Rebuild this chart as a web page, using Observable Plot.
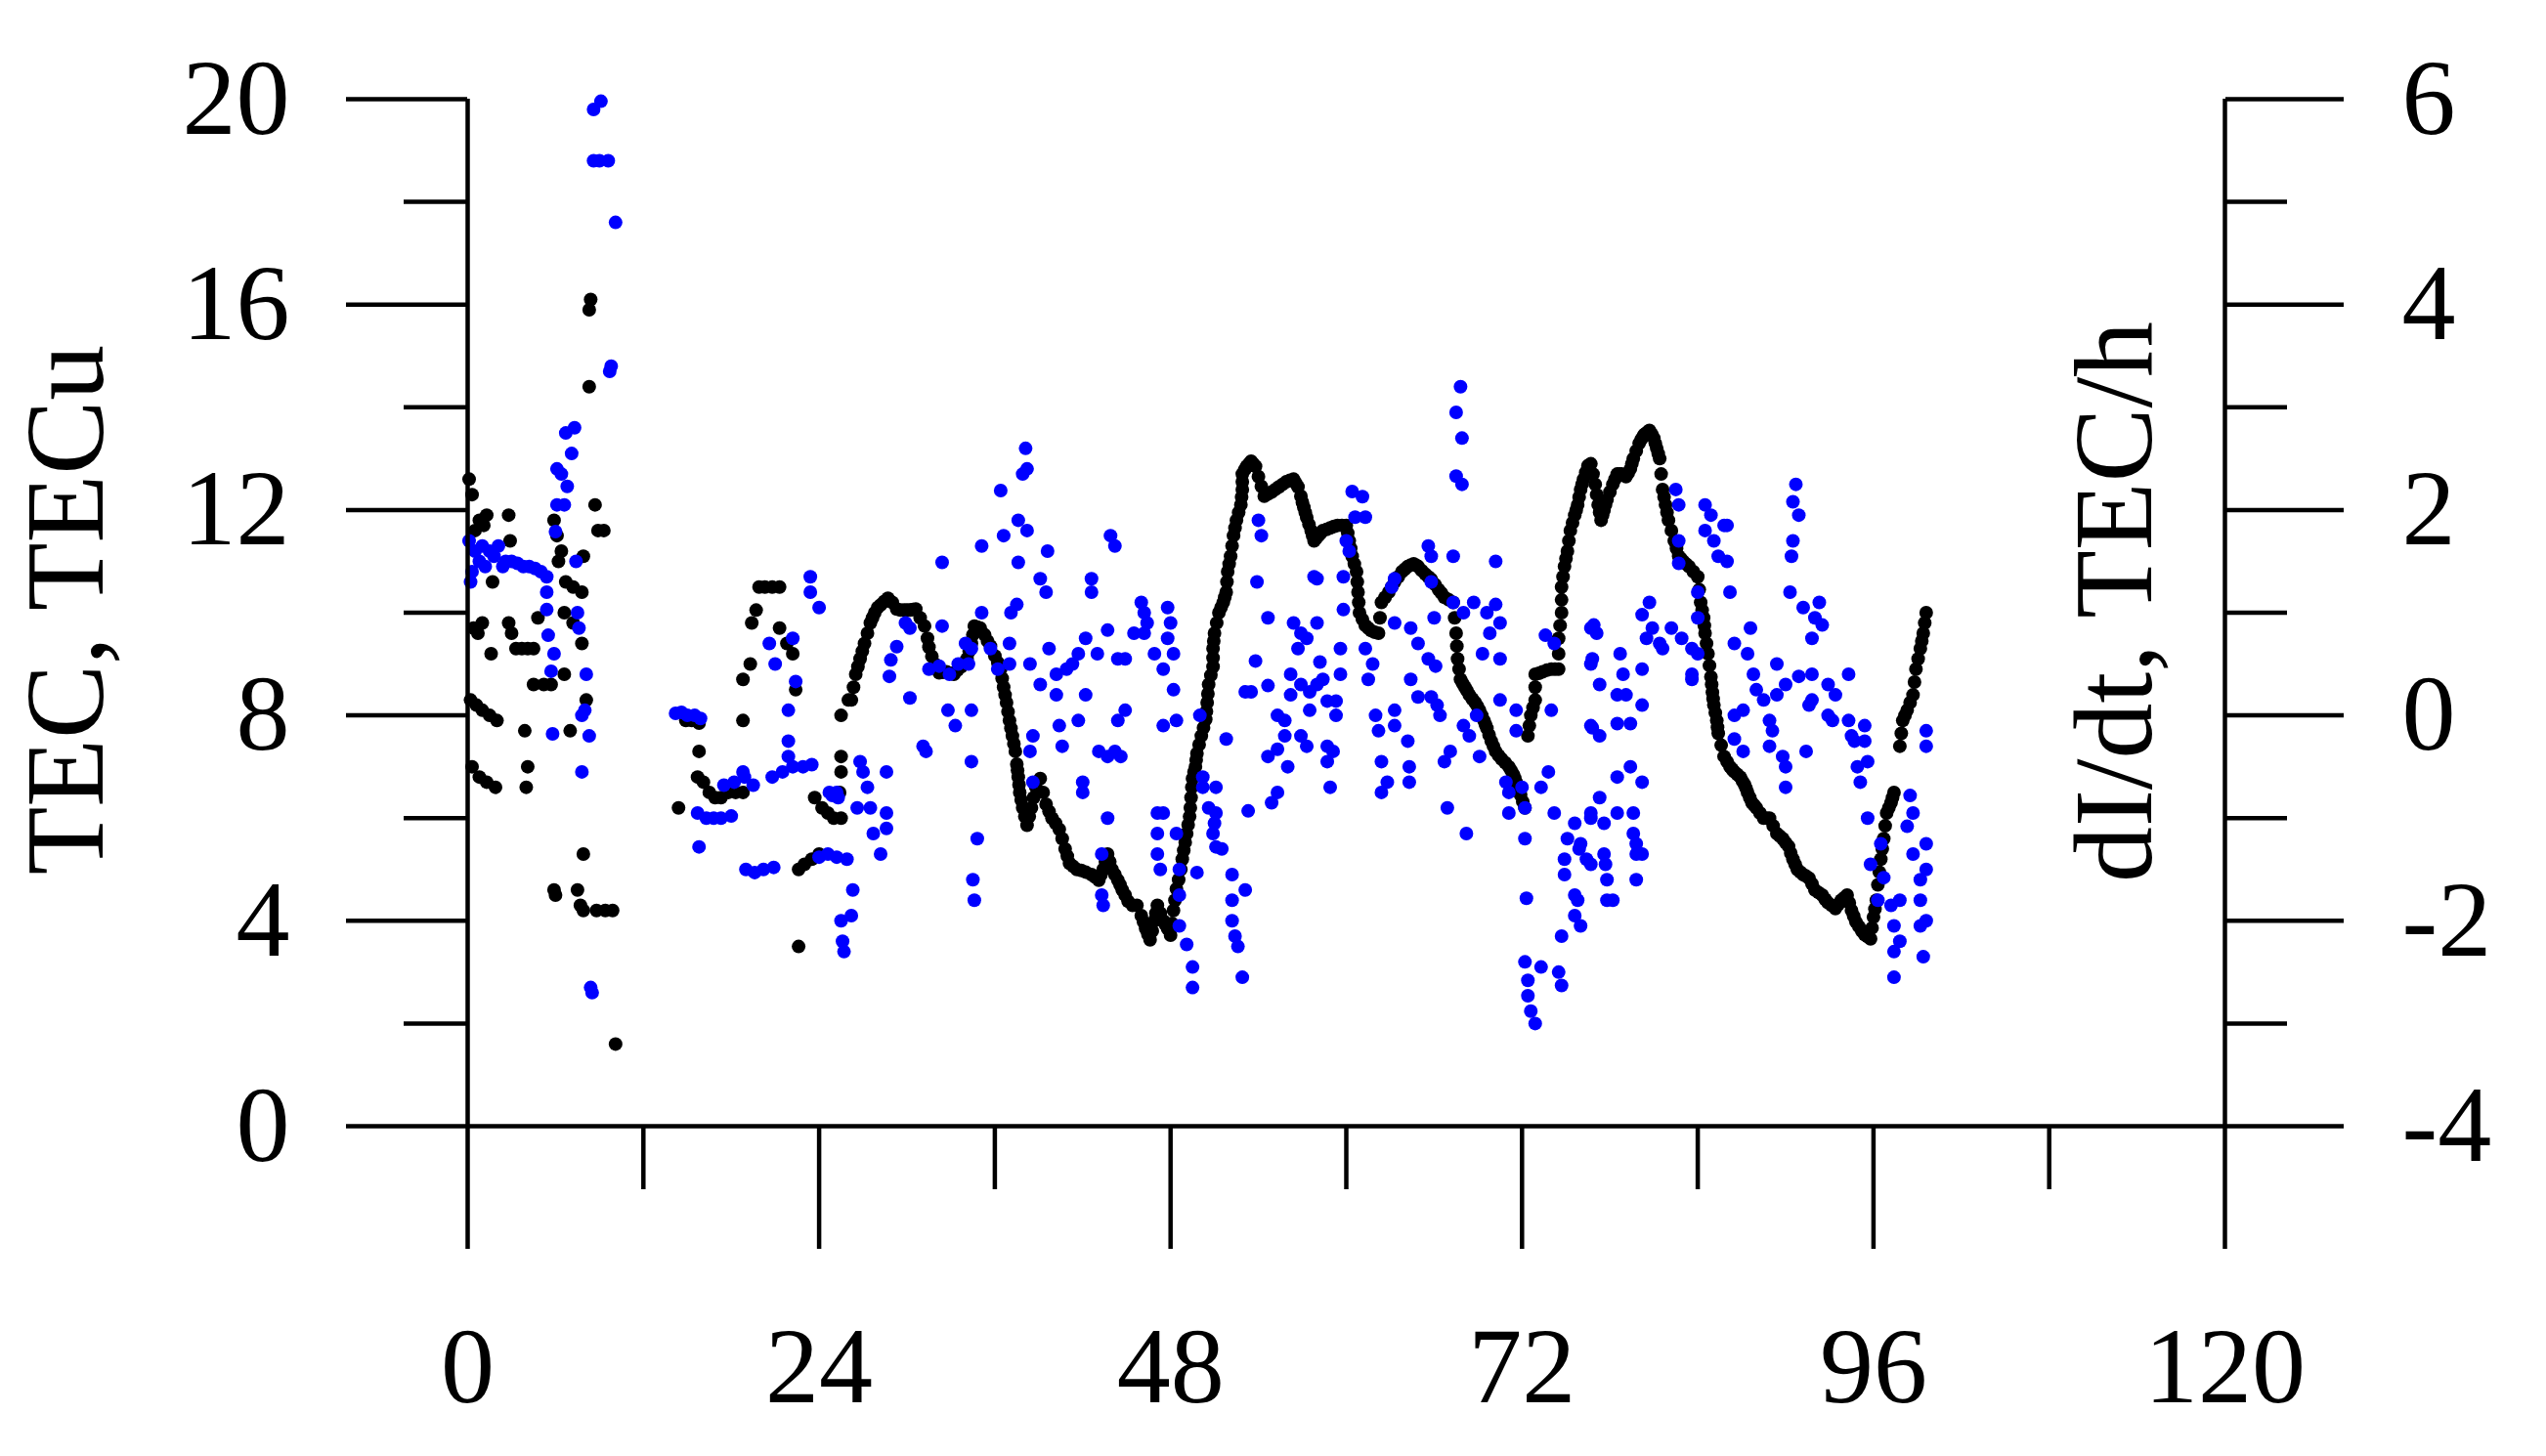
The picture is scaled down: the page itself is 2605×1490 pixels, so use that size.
<!DOCTYPE html>
<html><head><meta charset="utf-8">
<script src="https://cdn.jsdelivr.net/npm/d3@7"></script>
<script src="https://cdn.jsdelivr.net/npm/@observablehq/plot@0.6"></script>
<style>html,body{margin:0;padding:0;background:#fff;}</style>
</head><body><div id="chart"></div>
<script>
const hourTicks = [0, 24, 48, 72, 96, 120];
const hourMinorTicks = [12, 36, 60, 84, 108];
const tecTicks = [0, 4, 8, 12, 16, 20];
const tecMinorTicks = [2, 6, 10, 14, 18];
const rateTicks = [-4, -2, 0, 2, 4, 6];
const rateMinorTicks = [-3, -1, 1, 3, 5];
const tecLabel = "TEC, TECu";
const rateLabel = "dI/dt, TEC/h";

// TEC (black) [hour, TECu]
const tecPoints = [
[0.1,12.6],[0.3,12.3],[0.5,11.6],[0.8,11.8],[1.1,11.7],[1.3,11.9],[2.8,11.9],[2.9,11.4],[1.7,10.6],[0.4,9.7],[0.7,9.6],[1.0,9.8],[1.6,9.2],[2.8,9.8],[3.0,9.6],[3.3,9.3],[3.7,9.3],[4.1,9.3],[4.5,9.3],[4.8,9.9],[4.5,8.6],[5.2,8.6],[5.7,8.6],[0.2,8.3],[0.6,8.2],[1.0,8.1],[1.5,8.0],[2.0,7.9],[3.9,7.7],[0.3,7.0],[0.8,6.8],[1.3,6.7],[1.9,6.6],[4.1,7.0],[4.0,6.6],[5.9,11.8],[6.1,11.5],[6.4,11.2],[6.2,11.0],[6.7,10.6],[7.2,10.5],[7.8,10.4],[6.6,10.0],[7.2,9.8],[7.8,9.4],[6.6,8.8],[7.0,7.7],[8.1,8.3],[7.9,11.1],[8.7,12.1],[8.9,11.6],[9.3,11.6],[8.4,16.1],[8.3,15.9],[8.3,14.4],[7.9,5.3],[5.9,4.6],[6.0,4.5],[7.5,4.6],[7.7,4.3],[7.9,4.2],[8.8,4.2],[9.4,4.2],[9.9,4.2],[10.1,1.6],
[14.4,6.2],[14.9,7.9],[15.3,7.9],[15.8,7.85],[15.8,7.3],[15.7,6.8],[16.1,6.7],[16.5,6.5],[16.9,6.4],[17.3,6.4],[17.8,6.5],[18.3,6.5],[18.8,6.5],[18.8,7.9],[18.8,8.7],[19.3,9.0],[19.4,9.8],[19.7,10.05],[19.9,10.5],[20.3,10.5],[20.8,10.5],[21.3,10.5],[21.3,9.7],[21.8,9.4],[22.2,9.2],[22.4,8.5],[22.6,3.5],[22.6,5.0],[23.0,5.1],[23.5,5.2],[24.0,5.3],[23.7,6.4],[24.2,6.2],[24.6,6.1],[25.0,6.0],[25.5,8.0],[26.0,8.3],[25.5,7.2],[25.5,6.9],[25.4,6.5],[25.5,6.0],
[26.2,8.3],[26.35,8.55],[26.5,8.8],[26.65,8.95],[26.8,9.1],[26.95,9.25],[27.1,9.4],[27.3,9.6],[27.5,9.8],[27.65,9.9],[27.8,10.0],[28.0,10.1],[28.2,10.15],[28.45,10.22],[28.7,10.28],[29.0,10.2],[29.3,10.07],[29.55,10.05],[29.8,10.05],[30.0,10.05],[30.2,10.05],[30.4,10.06],[30.6,10.07],[30.9,9.9],[31.2,9.74],[31.4,9.5],[31.5,9.33],[31.7,9.15],[31.9,9.0],[32.2,8.83],[32.45,8.84],[32.7,8.85],[32.95,8.82],[33.2,8.8],[33.45,8.88],[33.7,8.95],[33.9,9.02],[34.1,9.1],[34.25,9.25],[34.4,9.4],[34.5,9.57],[34.6,9.74],[34.8,9.72],[35.0,9.7],[35.3,9.57],[35.5,9.45],[35.7,9.35],[36.0,9.16],[36.2,9.03],[36.4,8.9],[36.5,8.72],[36.6,8.55],[36.7,8.4],[36.8,8.25],[36.9,8.07],[37.0,7.9],[37.1,7.75],[37.2,7.6],[37.3,7.45],[37.4,7.3],[37.5,7.05],[37.55,6.93],[37.6,6.8],[37.65,6.65],[37.7,6.5],[37.8,6.35],[37.9,6.2],[38.05,6.03],[38.2,5.86],[38.35,6.03],[38.5,6.2],[38.65,6.4],[38.8,6.6],[39.1,6.77],[39.3,6.5],[39.5,6.27],[39.7,6.13],[39.9,6.0],[40.15,5.9],[40.4,5.78],[40.6,5.6],[40.8,5.4],[40.95,5.26],[41.1,5.12],[41.35,5.06],[41.6,5.0],[41.9,4.98],[42.2,4.95],[42.6,4.9],[42.85,4.85],[43.1,4.79],[43.25,4.9],[43.4,5.0],[43.55,5.15],[43.7,5.3],[43.85,5.15],[44.0,5.0],[44.2,4.9],[44.4,4.79],[44.55,4.7],[44.7,4.6],[44.9,4.5],[45.1,4.38],[45.4,4.3],[45.7,4.3],[46.0,4.1],[46.15,3.98],[46.3,3.85],[46.45,3.74],[46.6,3.63],[46.75,3.8],[46.9,4.0],[47.0,4.15],[47.1,4.3],[47.3,4.15],[47.5,4.0],[47.65,3.93],[47.8,3.85],[48.0,3.72],[48.1,3.95],[48.2,4.2],[48.3,4.4],[48.4,4.62],[48.55,4.8],[48.7,5.0],[48.8,5.2],[48.9,5.37],[49.0,5.53],[49.1,5.7],[49.2,5.87],[49.3,6.03],[49.35,6.2],[49.4,6.4],[49.45,6.6],[49.5,6.77],[49.6,6.9],[49.7,7.0],[49.75,7.13],[49.8,7.26],[49.95,7.43],[50.1,7.6],[50.25,7.76],[50.4,7.92],[50.45,8.08],[50.5,8.25],[50.55,8.42],[50.6,8.6],[50.75,8.78],[50.9,8.95],[50.9,9.12],[50.9,9.3],[50.95,9.45],[51.0,9.6],[51.15,9.8],[51.3,10.0],[51.45,10.1],[51.6,10.2],[51.7,10.3],[51.8,10.4],[51.85,10.6],[51.9,10.8],[52.0,10.95],[52.1,11.1],[52.2,11.3],[52.3,11.5],[52.4,11.65],[52.5,11.8],[52.65,11.95],[52.8,12.1],[52.85,12.25],[52.9,12.4],[52.9,12.55],[52.9,12.7],[53.05,12.78],[53.2,12.85],[53.35,12.9],[53.5,12.95],[53.65,12.9],[53.8,12.85],[54.0,12.65],[54.2,12.46],[54.4,12.27],[54.65,12.31],[54.9,12.35],[55.15,12.4],[55.4,12.45],[55.65,12.5],[55.9,12.55],[56.15,12.58],[56.4,12.6],[56.55,12.52],[56.7,12.45],[56.9,12.27],[57.0,12.15],[57.1,12.05],[57.2,11.95],[57.3,11.85],[57.45,11.72],[57.6,11.6],[57.7,11.5],[57.8,11.4],[57.95,11.45],[58.1,11.5],[58.25,11.55],[58.4,11.6],[58.65,11.62],[58.9,11.65],[59.15,11.68],[59.4,11.7],[59.7,11.7],[60.0,11.7],[60.1,11.55],[60.2,11.4],[60.3,11.25],[60.4,11.1],[60.55,10.95],[60.7,10.8],[60.75,10.6],[60.8,10.4],[60.85,10.2],[60.9,10.0],[61.1,9.87],[61.3,9.75],[61.5,9.7],[61.7,9.65],[61.95,9.62],[62.2,9.6],[62.3,9.9],[62.4,10.2],[62.65,10.3],[62.9,10.4],[63.1,10.5],[63.3,10.6],[63.55,10.7],[63.8,10.8],[64.0,10.85],[64.2,10.9],[64.4,10.93],[64.6,10.95],[64.75,10.93],[64.9,10.9],[65.15,10.82],[65.4,10.75],[65.6,10.7],[65.8,10.65],[66.05,10.55],[66.3,10.45],[66.5,10.38],[66.7,10.3],[67.0,10.25],[67.3,10.2],[67.4,9.9],[67.5,9.6],[67.55,9.35],[67.6,9.1],[67.7,8.9],[67.8,8.7],[67.95,8.62],[68.1,8.55],[68.25,8.48],[68.4,8.4],[68.6,8.32],[68.8,8.25],[68.95,8.18],[69.1,8.1],[69.25,8.0],[69.4,7.9],[69.5,7.82],[69.6,7.75],[69.75,7.62],[69.9,7.5],[70.05,7.4],[70.2,7.3],[70.4,7.22],[70.6,7.15],[70.85,7.08],[71.1,7.0],[71.25,6.93],[71.4,6.85],[71.5,6.78],[71.6,6.7],[71.75,6.58],[71.9,6.45],[72.05,6.32],[72.2,6.2],[72.4,7.6],[72.5,7.8],[72.6,8.0],[72.75,8.15],[72.9,8.3],[72.9,8.55],[72.9,8.8],[73.15,8.82],[73.4,8.85],[73.7,8.88],[74.0,8.9],[74.25,8.9],[74.5,8.9],[74.5,9.2],[74.5,9.5],[74.6,9.75],[74.7,10.0],[74.7,10.25],[74.7,10.5],[74.8,10.7],[74.9,10.9],[75.0,11.05],[75.1,11.2],[75.2,11.4],[75.3,11.6],[75.45,11.75],[75.6,11.9],[75.7,12.0],[75.8,12.1],[75.9,12.25],[76.0,12.4],[76.1,12.5],[76.2,12.6],[76.35,12.73],[76.5,12.86],[76.6,12.88],[76.7,12.9],[76.85,12.7],[77.0,12.5],[77.1,12.3],[77.2,12.1],[77.3,11.95],[77.4,11.8],[77.5,11.9],[77.6,12.0],[77.7,12.1],[77.8,12.2],[78.0,12.35],[78.2,12.5],[78.35,12.6],[78.5,12.7],[78.65,12.7],[78.8,12.7],[78.95,12.68],[79.1,12.65],[79.25,12.72],[79.4,12.8],[79.5,12.9],[79.6,13.0],[79.8,13.15],[80.0,13.3],[80.15,13.38],[80.3,13.45],[80.4,13.48],[80.5,13.5],[80.6,13.52],[80.7,13.55],[80.85,13.48],[81.0,13.4],[81.1,13.3],[81.2,13.2],[81.3,13.1],[81.4,13.0],[81.5,12.7],[81.6,12.4],[81.7,12.25],[81.8,12.1],[81.9,11.95],[82.0,11.8],[82.2,11.6],[82.4,11.4],[82.55,11.25],[82.7,11.1],[82.85,11.05],[83.0,11.0],[83.2,10.95],[83.4,10.9],[83.7,10.8],[84.0,10.7],[84.1,10.45],[84.2,10.2],[84.3,10.05],[84.4,9.9],[84.45,9.75],[84.5,9.6],[84.6,9.4],[84.7,9.2],[84.8,8.97],[84.9,8.75],[84.95,8.6],[85.0,8.45],[85.05,8.32],[85.1,8.2],[85.2,8.05],[85.3,7.9],[85.35,7.77],[85.4,7.65],[85.6,7.42],[85.8,7.2],[86.0,7.1],[86.2,7.0],[86.35,6.95],[86.5,6.9],[86.7,6.85],[86.9,6.8],[87.05,6.72],[87.2,6.65],[87.3,6.58],[87.4,6.5],[87.55,6.4],[87.7,6.3],[87.85,6.25],[88.0,6.2],[88.25,6.1],[88.5,6.0],[88.7,6.0],[88.9,6.0],[89.15,5.85],[89.4,5.7],[89.6,5.65],[89.8,5.6],[90.0,5.52],[90.2,5.45],[90.35,5.32],[90.5,5.2],[90.65,5.1],[90.8,5.0],[91.0,4.95],[91.2,4.9],[91.4,4.87],[91.6,4.83],[91.8,4.72],[92.0,4.6],[92.25,4.55],[92.5,4.5],[92.7,4.42],[92.9,4.35],[93.15,4.3],[93.4,4.24],[93.6,4.32],[93.8,4.4],[94.0,4.45],[94.2,4.5],[94.35,4.35],[94.5,4.2],[94.65,4.09],[94.8,3.98],[95.0,3.89],[95.2,3.8],[95.4,3.73],[95.6,3.69],[95.8,3.65],[95.9,3.86],[96.0,4.07],[96.1,4.23],[96.2,4.4],[96.3,4.7],[96.4,4.95],[96.5,5.2],[96.6,5.4],[96.7,5.6],[96.8,5.85],[96.9,6.1],[97.05,6.2],[97.2,6.3],[97.3,6.4],[97.4,6.5],[97.8,7.4],[97.9,7.65],[98.0,7.9],[98.15,8.0],[98.3,8.1],[98.5,8.25],[98.7,8.4],[98.8,8.65],[98.9,8.9],[99.05,9.1],[99.2,9.3],[99.3,9.45],[99.4,9.6],[99.5,9.8],[99.6,10.0]
];

// dI/dt (blue) [hour, TEC/h]
const ratePoints = [
[0.1,1.7],[0.3,1.4],[0.5,1.6],[0.8,1.5],[1.0,1.65],[1.2,1.45],[1.5,1.6],[1.8,1.55],[2.1,1.65],[2.4,1.45],[0.2,1.3],[2.6,1.5],[3.0,1.5],[3.4,1.48],[3.8,1.45],[4.2,1.45],[4.6,1.43],[5.0,1.4],[5.4,1.35],[5.4,1.2],[5.4,1.03],[5.5,0.78],[5.9,0.6],[5.7,0.43],[5.8,-0.18],[6.0,1.79],[6.1,2.05],[6.6,2.05],[6.1,2.4],[6.4,2.35],[6.7,2.75],[7.3,2.8],[7.1,2.55],[6.8,2.23],[7.4,1.5],[7.5,1.0],[7.6,0.85],[8.1,0.4],[7.8,0.0],[8.0,0.05],[8.3,-0.2],[7.8,-0.55],[8.4,-2.65],[8.5,-2.7],[8.6,5.9],[9.1,5.98],[8.6,5.4],[9.0,5.4],[9.6,5.4],[10.1,4.8],[9.7,3.35],[9.8,3.4],
[14.2,0.02],[14.6,0.03],[15.0,0.0],[15.5,0.0],[15.9,-0.03],[15.7,-0.95],[16.3,-1.0],[16.8,-1.0],[17.3,-1.0],[18.0,-0.98],[15.8,-1.28],[17.5,-0.68],[18.2,-0.65],[18.9,-0.6],[19.5,-0.68],[18.8,-0.55],[19.0,-1.5],[19.6,-1.53],[20.2,-1.5],[20.9,-1.48],[20.8,-0.6],[21.5,-0.55],[22.2,-0.5],[22.9,-0.5],[23.5,-0.48],[20.6,0.7],[21.0,0.5],[22.2,0.75],[22.4,0.33],[21.9,0.05],[21.9,-0.25],[21.9,-0.4],[23.4,1.35],[23.4,1.2],[24.0,1.05],[24.0,-1.38],[24.6,-1.35],[25.2,-1.38],[25.9,-1.4],[24.7,-0.75],[25.2,-0.75],[25.5,-2.0],[25.6,-2.2],[25.7,-2.3],
[24.9,-0.78],[25.3,-0.8],[26.3,-1.7],[26.2,-1.95],[26.8,-0.45],[27.0,-0.55],[27.3,-0.7],[26.6,-0.9],[27.5,-0.9],[27.7,-1.15],[28.2,-1.35],[28.6,-0.55],[28.6,-0.95],[28.6,-1.1],[28.8,0.38],[28.9,0.54],[29.3,0.67],[29.9,0.9],[30.2,0.85],[30.2,0.17],[31.1,-0.3],[31.3,-0.35],[31.5,0.45],[32.2,0.48],[32.9,0.4],[33.5,0.5],[34.2,0.5],[32.4,1.49],[32.4,0.87],[32.8,0.05],[33.3,-0.1],[34.0,0.7],[34.4,0.65],[34.4,-0.45],[34.4,0.05],[34.8,-1.2],[34.5,-1.6],[34.6,-1.8],[35.1,1.65],[35.1,1.0],[35.7,0.65],[36.2,0.45],[36.4,2.19],[36.6,1.75],[37.1,1.0],[37.5,1.08],[37.0,0.7],[37.0,0.5],[37.6,1.9],[38.2,1.8],[37.6,1.49],[37.9,2.35],[38.2,2.4],[38.1,2.6],[38.6,-0.2],[38.4,-0.35],[38.4,0.5],[38.6,-0.65],[39.1,1.33],[39.5,1.2],[39.6,1.6],[39.7,0.65],[39.1,0.3],[40.2,0.4],[40.9,0.45],[41.3,0.5],[41.7,0.6],[40.4,-0.1],[40.6,-0.3],[40.2,0.2],[41.7,-0.05],[42.2,0.2],[42.0,-0.65],[42.0,-0.75],[42.2,0.75],[42.6,1.33],[42.6,1.2],[43.0,0.6],[43.1,-0.35],[43.7,-0.4],[44.2,-0.35],[44.6,-0.4],[43.9,1.75],[44.2,1.65],[43.7,0.83],[43.7,-1.0],[43.3,-1.35],[43.3,-1.75],[43.4,-1.85],[44.4,-0.05],[44.9,0.05],[44.4,0.55],[44.9,0.55],[46.0,1.1],[46.2,1.0],[46.4,0.9],[45.5,0.8],[46.2,0.8],[46.9,0.6],[47.8,1.05],[48.0,0.9],[47.8,0.75],[48.2,0.6],[47.5,0.45],[48.2,0.25],[47.5,-0.1],[48.4,-0.05],[47.1,-0.95],[47.5,-0.95],[47.1,-1.15],[47.1,-1.35],[47.3,-1.5],[48.4,-1.15],[48.6,-1.5],[49.8,-1.53],[48.6,-1.75],[48.6,-2.05],[49.1,-2.23],[49.5,-2.45],[49.5,-2.65],[50.0,0.0],[50.2,-0.6],[51.1,-0.7],[51.1,-0.95],[50.9,-1.15],[51.1,-1.28],
[67.8,3.2],[67.5,2.95],[67.9,2.7],[67.5,2.33],[67.9,2.25],[60.4,2.18],[61.1,2.13],[60.6,1.93],[61.3,1.93],[60.0,1.7],[60.2,1.6],[59.8,1.35],[54.0,1.9],[54.2,1.75],[53.9,1.3],[54.65,0.95],[53.8,0.53],[57.8,1.35],[58.0,1.33],[56.4,0.9],[56.9,0.8],[58.0,0.9],[57.3,0.75],[56.7,0.65],[59.8,1.03],[59.6,0.65],[58.2,0.52],[61.3,0.65],[61.8,0.5],[61.5,0.35],[63.3,1.33],[63.1,1.25],[63.3,0.9],[65.6,1.65],[65.8,1.55],[65.8,1.3],[67.3,1.55],[70.2,1.5],[64.4,0.85],[64.9,0.7],[65.6,0.55],[66.0,0.95],[66.1,0.48],[67.3,1.1],[68.0,1.0],[68.7,1.1],[69.6,1.0],[70.2,1.08],[69.8,0.8],[69.3,0.6],[70.5,0.9],[70.5,0.55],[64.4,0.35],[53.1,0.23],[53.5,0.23],[54.65,0.29],[56.2,0.4],[56.9,0.3],[57.5,0.23],[58.0,0.3],[58.4,0.35],[59.6,0.4],[56.2,0.2],[57.5,0.05],[58.7,0.14],[59.3,0.14],[59.3,0.0],[55.3,0.0],[55.8,-0.05],[55.8,-0.2],[55.3,-0.33],[54.65,-0.4],[56.9,-0.2],[57.3,-0.3],[58.7,-0.3],[59.1,-0.35],[58.7,-0.45],[56.0,-0.5],[54.9,-0.85],[55.3,-0.75],[58.9,-0.7],[53.3,-0.93],[62.0,0.0],[62.2,-0.15],[63.3,0.05],[63.3,-0.1],[64.2,-0.25],[62.4,-0.45],[62.4,-0.75],[62.8,-0.65],[64.3,-0.5],[64.3,-0.65],[64.9,0.18],[65.8,0.18],[66.2,0.1],[66.4,0.0],[68.0,-0.1],[68.4,-0.2],[67.1,-0.35],[66.7,-0.45],[66.9,-0.9],[68.2,-1.15],[69.1,-0.4],[68.9,0.0],[70.5,0.15],[71.6,0.05],[71.6,-0.15],[70.9,-0.65],[71.1,-0.75],[72.0,-0.7],[73.3,-0.7],[71.1,-0.95],[72.2,-0.9],[72.2,-1.2],[73.8,-0.55],[74.2,-0.95],[73.6,0.78],[74.2,0.7],[74.0,0.05],[76.7,0.85],[76.7,0.5],[76.7,-0.1],[76.7,-1.0],[75.1,-1.2],[74.9,-1.4],[75.9,-1.3],[74.9,-1.55],[75.8,-1.8],[75.6,-1.95],[74.7,-2.15],[72.3,-1.78],[72.2,-2.4],[73.3,-2.45],[72.4,-2.58],[72.4,-2.73],[72.6,-2.88],[72.9,-3.0],[74.5,-2.5],[74.7,-2.63],[51.8,-0.23],[50.2,-0.7],[50.6,-0.9],[51.0,-1.05],[51.5,-1.3],[52.2,-1.55],[52.2,-1.8],[53.1,-1.7],[52.2,-2.0],[52.4,-2.15],[52.6,-2.25],[52.9,-2.55],
[75.6,-1.05],[76.0,-1.25],[76.4,-1.4],[76.7,-1.45],[75.6,-1.75],[76.0,-2.05],[76.9,0.88],[77.1,0.8],[76.8,0.55],[77.3,0.3],[76.8,-0.12],[77.3,-0.2],[78.7,0.6],[78.9,0.4],[78.5,0.2],[79.1,0.2],[78.5,-0.08],[79.4,-0.08],[80.2,0.45],[80.2,0.1],[79.4,-0.5],[78.5,-0.6],[80.2,-0.65],[77.3,-0.8],[76.7,-0.95],[77.6,-1.05],[78.5,-0.95],[79.6,-0.95],[79.6,-1.15],[79.8,-1.25],[77.6,-1.35],[77.7,-1.45],[77.8,-1.6],[78.2,-1.8],[77.8,-1.8],[79.8,-1.35],[80.2,-1.35],[79.8,-1.6],[80.7,1.1],[80.2,0.98],[80.9,0.85],[80.5,0.75],[81.4,0.7],[81.6,0.65],[82.2,0.85],[82.9,0.75],[83.6,0.65],[84.0,0.6],[83.6,0.4],[83.6,0.35],[82.5,2.2],[82.7,2.05],[82.7,1.7],[82.7,1.48],[84.5,2.05],[84.9,1.95],[84.5,1.8],[85.1,1.7],[85.8,1.85],[86.0,1.85],[85.4,1.55],[86.0,1.5],[86.2,1.2],[84.0,1.2],[84.0,0.95],[86.5,0.7],[87.6,0.85],[87.4,0.6],[87.8,0.4],[88.0,0.25],[88.5,0.15],[89.4,0.2],[90.0,0.3],[90.9,0.38],[91.8,0.4],[89.4,0.5],[86.5,0.0],[87.1,0.05],[86.5,-0.23],[87.1,-0.35],[88.9,-0.05],[89.1,-0.15],[88.9,-0.3],[89.8,-0.4],[90.0,-0.5],[90.0,-0.7],[91.4,-0.35],[90.7,2.25],[90.5,2.08],[90.9,1.95],[90.5,1.7],[90.4,1.55],[90.3,1.2],[91.2,1.05],[92.3,1.1],[92.0,0.95],[92.5,0.88],[91.8,0.75],[91.6,0.1],[91.8,0.15],[92.9,0.3],[93.4,0.2],[92.9,0.0],[93.2,-0.05],[94.3,0.4],[94.3,-0.05],[94.5,-0.2],[94.7,-0.25],[95.4,-0.1],[95.4,-0.25],[94.9,-0.5],[95.6,-0.45],[95.1,-0.65],[95.6,-1.0],[95.8,-1.45],[96.5,-1.25],[96.7,-1.58],[96.3,-1.8],[97.2,-1.85],[97.8,-1.8],[98.5,-0.78],[98.7,-0.95],[98.3,-1.08],[99.6,-1.25],[98.7,-1.35],[99.6,-1.5],[99.2,-1.6],[99.2,-1.8],[99.6,-2.0],[99.2,-2.05],[97.4,-2.05],[97.8,-2.2],[97.4,-2.3],[99.4,-2.35],[97.4,-2.55],[99.6,-0.15],[99.6,-0.3]
];

// right axis (-4..6 TEC/h) spans the same height as left axis (0..20 TECu)
const rateToTec = d => (d + 4) * 2;

const lw = 4.5;
const chart = Plot.plot({
  width: 2605,
  height: 1490,
  marginLeft: 478,
  marginRight: 329,
  marginTop: 101,
  marginBottom: 338,
  x: {domain: [0, 120]},
  y: {domain: [0, 20]},
  style: {fontFamily: "'Liberation Serif', 'Times New Roman', serif", fontSize: "110px", background: "#fff", color: "#000", overflow: "visible"},
  marks: [
    Plot.dot(tecPoints, {x: d => d[0], y: d => d[1], r: 7, fill: "#000"}),
    Plot.dot(ratePoints, {x: d => d[0], y: d => rateToTec(d[1]), r: 7, fill: "#0000ff"}),
    Plot.ruleX([0, 120], {strokeWidth: lw}),
    Plot.ruleY([0], {strokeWidth: lw}),
    Plot.axisY({ticks: tecTicks, tickSize: 124, tickPadding: 58, strokeWidth: lw, label: null, tickFormat: d => String(d)}),
    Plot.axisY({ticks: tecMinorTicks, tickSize: 65, strokeWidth: lw, label: null, tickFormat: () => ""}),
    Plot.axisY({anchor: "right", ticks: rateTicks.map(rateToTec), tickSize: 121, tickPadding: 60, strokeWidth: lw, label: null, tickFormat: t => String(t / 2 - 4)}),
    Plot.axisY({anchor: "right", ticks: rateMinorTicks.map(rateToTec), tickSize: 63, strokeWidth: lw, label: null, tickFormat: () => ""}),
    Plot.axisX({ticks: hourTicks, tickSize: 126, tickPadding: 78, strokeWidth: lw, label: null, tickFormat: d => String(d)}),
    Plot.axisX({ticks: hourMinorTicks, tickSize: 65, strokeWidth: lw, label: null, tickFormat: () => ""}),
    Plot.text([tecLabel], {frameAnchor: "left", textAnchor: "middle", lineAnchor: "middle", text: d => d, rotate: -90, dx: -410, dy: -3, fontSize: 114}),
    Plot.text([rateLabel], {frameAnchor: "right", textAnchor: "middle", lineAnchor: "middle", text: d => d, rotate: -90, dx: -112, dy: -11, fontSize: 114})
  ]
});
document.getElementById("chart").appendChild(chart);
</script>
</body></html>
